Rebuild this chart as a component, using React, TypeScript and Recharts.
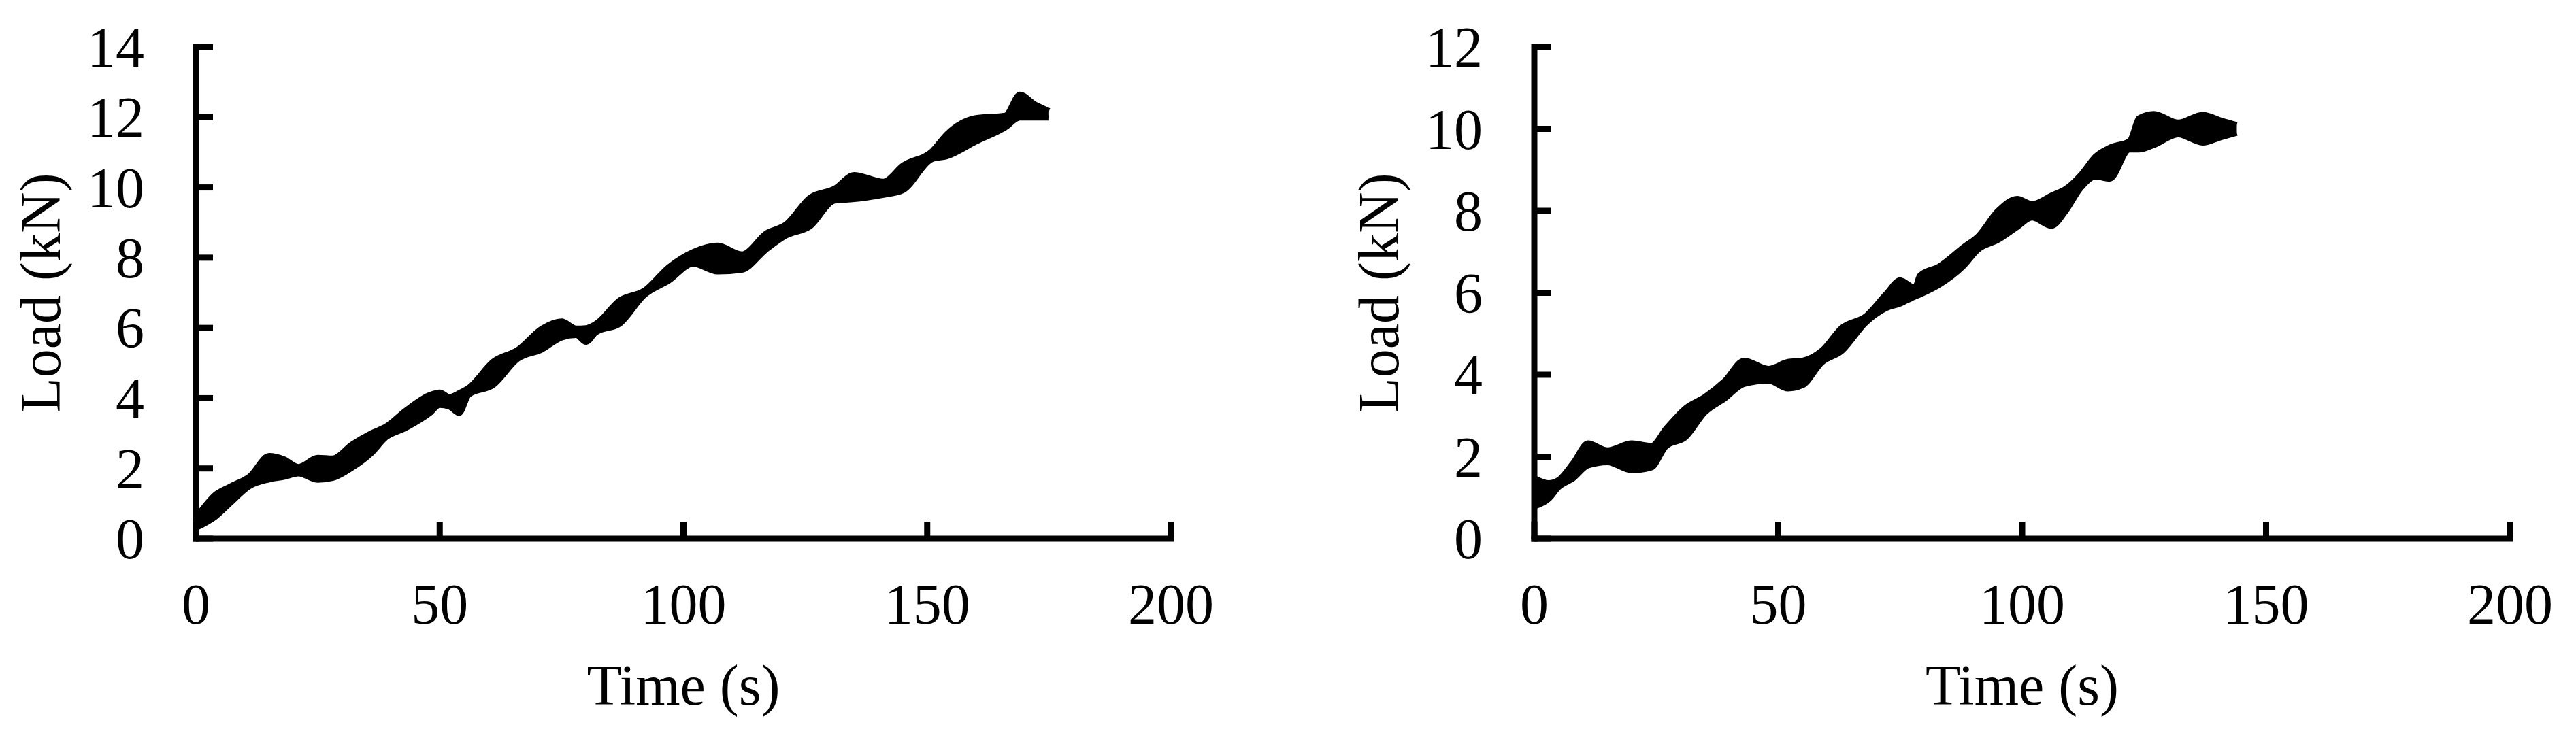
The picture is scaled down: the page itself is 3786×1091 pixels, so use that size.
import React from "react";
import { AreaChart, Area, XAxis, YAxis, Label } from "recharts";

// left panel: band of the cyclic load signal (lower / upper envelope, kN)
const timeA = [0, 4, 7, 11, 15, 18, 21, 25, 28, 32, 36, 39, 43, 48, 50, 52, 54, 56, 61, 66, 71, 75, 78, 80, 82, 87, 92, 97, 102, 107, 112, 117, 121, 126, 131, 135, 141, 145, 151, 154, 160, 166, 169, 172, 175];
const lowA = [0.3, 0.62, 1.0, 1.49, 1.68, 1.75, 1.85, 1.67, 1.72, 2.01, 2.43, 2.88, 3.14, 3.57, 3.8, 3.75, 3.57, 4.1, 4.37, 5.11, 5.38, 5.72, 5.79, 5.59, 5.86, 6.12, 6.93, 7.34, 7.82, 7.6, 7.65, 8.23, 8.62, 8.89, 9.62, 9.66, 9.78, 9.91, 10.8, 10.88, 11.3, 11.7, 11.98, 11.98, 11.98];
const highA = [0.6, 1.26, 1.49, 1.78, 2.36, 2.27, 2.05, 2.31, 2.29, 2.69, 3.01, 3.2, 3.65, 4.1, 4.17, 4.04, 4.15, 4.31, 5.05, 5.38, 5.99, 6.19, 5.99, 6.0, 6.12, 6.8, 7.07, 7.74, 8.17, 8.35, 8.1, 8.7, 8.95, 9.72, 9.97, 10.36, 10.17, 10.63, 11.04, 11.52, 11.98, 12.05, 12.65, 12.38, 12.18];

// right panel
const timeB = [0, 3, 5, 8, 11, 15, 20, 24, 27, 31, 35, 39, 43, 48, 52, 55, 59, 63, 68, 72, 75, 78, 79, 83, 88, 91, 95, 99, 102, 106, 109, 112, 115, 118, 122, 124, 127, 132, 137, 141, 144];
const lowB = [0.78, 0.97, 1.25, 1.47, 1.78, 1.86, 1.66, 1.73, 2.25, 2.47, 3.08, 3.41, 3.77, 3.85, 3.66, 3.74, 4.3, 4.57, 5.27, 5.61, 5.73, 5.9, 5.95, 6.19, 6.65, 7.05, 7.28, 7.6, 7.83, 7.63, 8.0, 8.55, 8.83, 8.78, 9.49, 9.49, 9.6, 9.86, 9.66, 9.8, 9.9];
const highB = [1.48, 1.36, 1.44, 1.86, 2.33, 2.16, 2.33, 2.27, 2.69, 3.19, 3.47, 3.85, 4.35, 4.15, 4.32, 4.35, 4.6, 5.15, 5.44, 5.96, 6.31, 6.13, 6.42, 6.65, 7.12, 7.39, 8.0, 8.3, 8.17, 8.38, 8.55, 8.88, 9.33, 9.55, 9.71, 10.27, 10.37, 10.16, 10.35, 10.2, 10.1];

const xTicks = [0, 50, 100, 150, 200];
const yTicksA = [0, 2, 4, 6, 8, 10, 12, 14];
const yTicksB = [0, 2, 4, 6, 8, 10, 12];

const FONT = "'Liberation Serif', 'Times New Roman', serif";
const FS = 84;
const AX = 9;

const YTick = (props: any) => {
  const { x, y, payload } = props;
  return (
    <g>
      <line x1={x} x2={x + 25} y1={y} y2={y} stroke="#000" strokeWidth={AX} />
      <text x={x - 76} y={y + 29} textAnchor="end" fontFamily={FONT} fontSize={FS} fill="#000">
        {payload.value}
      </text>
    </g>
  );
};

const XTick = (props: any) => {
  const { x, y, payload } = props;
  return (
    <g>
      <line x1={x} x2={x} y1={y} y2={y - 25} stroke="#000" strokeWidth={AX} />
      <text x={x} y={y + 125} textAnchor="middle" fontFamily={FONT} fontSize={FS} fill="#000">
        {payload.value}
      </text>
    </g>
  );
};

const XTitle = (props: any) => {
  const vb = props.viewBox;
  return (
    <text x={vb.x + vb.width / 2} y={vb.y + 244} textAnchor="middle" fontFamily={FONT} fontSize={FS} fill="#000">
      Time (s)
    </text>
  );
};

const YTitle = (props: any) => {
  const vb = props.viewBox;
  const x = vb.x + vb.width - 200;
  const y = vb.y + vb.height / 2;
  return (
    <text x={x} y={y} transform={`rotate(-90, ${x}, ${y})`} textAnchor="middle" fontFamily={FONT} fontSize={FS} fill="#000">
      Load (kN)
    </text>
  );
};

const axisLine = { stroke: "#000", strokeWidth: AX, strokeLinecap: "square" as const };

const Panel = ({ time, low, high, yMax, yTicks, margin }: any) => {
  const data = time.map((t: number, i: number) => ({ t, band: [low[i], high[i]] }));
  return (
    <AreaChart width={1893} height={1091} data={data} margin={margin}>
      <XAxis
        type="number"
        dataKey="t"
        domain={[0, 200]}
        ticks={xTicks}
        interval={0}
        height={100}
        tickSize={0}
        tickMargin={0}
        tickLine={false}
        axisLine={axisLine}
        tick={<XTick />}
        label={<Label content={<XTitle />} />}
      />
      <YAxis
        type="number"
        domain={[0, yMax]}
        ticks={yTicks}
        interval={0}
        width={100}
        tickSize={0}
        tickMargin={0}
        tickLine={false}
        axisLine={axisLine}
        tick={<YTick />}
        label={<Label content={<YTitle />} />}
      />
      <Area
        type="monotone"
        dataKey="band"
        stroke="#000"
        strokeWidth={8}
        strokeLinejoin="round"
        fill="#000"
        fillOpacity={1}
        dot={false}
        activeDot={false}
        isAnimationActive={false}
      />
    </AreaChart>
  );
};

export default function App() {
  return (
    <div style={{ position: "absolute", left: 0, top: 0, width: 3786, height: 1091, background: "#fff" }}>
      <div style={{ position: "absolute", left: 0, top: 0 }}>
        <Panel time={timeA} low={lowA} high={highA} yMax={14} yTicks={yTicksA}
          margin={{ top: 69, right: 172, left: 188, bottom: 199 }} />
      </div>
      <div style={{ position: "absolute", left: 1893, top: 0 }}>
        <Panel time={timeB} low={lowB} high={highB} yMax={12} yTicks={yTicksB}
          margin={{ top: 69, right: 97, left: 262, bottom: 199 }} />
      </div>
    </div>
  );
}
